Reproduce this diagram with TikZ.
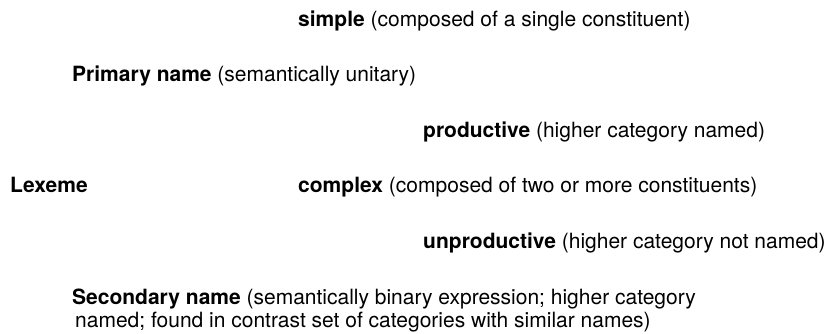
\documentclass[tikz,border=0pt]{standalone}
\usepackage{fontspec}
\setmainfont{TeX Gyre Heros}
\usetikzlibrary{positioning}

\begin{document}
\begin{tikzpicture}[
    x=1pt, y=-1pt,
    lab/.style={anchor=base west, inner sep=0pt, font=\fontsize{21}{23}\selectfont}
]
    \useasboundingbox (0,0) rectangle (833,334);
    % Nodes
    \node[lab] (simple) at (298,26.5) {\textbf{simple} (composed of a single constituent)};
    \node[lab] (primary) at (72,82) {\textbf{Primary name} (semantically unitary)};
    \node[lab] (productive) at (423,137.5) {\textbf{productive} (higher category named)};
    \node[lab] (lexeme) at (10,193) {\textbf{Lexeme}};
    \node[lab] (complex) at (298,193) {\textbf{complex} (composed of two or more constituents)};
    \node[lab] (unproductive) at (423,248.5) {\textbf{unproductive} (higher category not named)};
    \node[lab, align=left] (secondary) at (72,327)
        {\textbf{Secondary name} (semantically binary expression; higher category\\
         \hspace*{3pt}named; found in contrast set of categories with similar names)};
\end{tikzpicture}
\end{document}
